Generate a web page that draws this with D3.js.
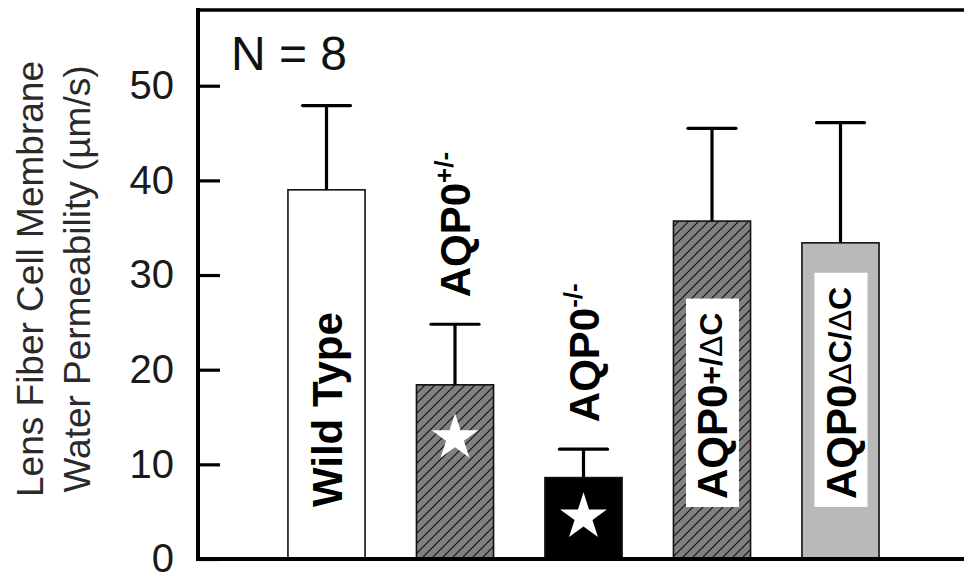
<!DOCTYPE html>
<html>
<head>
<meta charset="utf-8">
<script src="https://cdn.jsdelivr.net/npm/d3@7"></script>
<style>
  html, body { margin: 0; padding: 0; background: #fff; }
  svg { display: block; font-family: "Liberation Sans", Arial, Helvetica, sans-serif; }
</style>
</head>
<body>
<svg id="chart" width="964" height="581"></svg>
<script>
// ---- data ----
const categories = ["Wild Type", "AQP0+/-", "AQP0-/-", "AQP0+/ΔC", "AQP0ΔC/ΔC"];
const labelMain = ["Wild Type", "AQP0", "AQP0", "AQP0", "AQP0"];
const labelSup = ["", "+/-", "-/-", "+/ΔC", "ΔC/ΔC"];
const labelPlacement = ["inside", "above", "above", "box", "box"];
const meanValues = [39.0, 18.4, 8.6, 35.7, 33.4];
const errorValues = [8.9, 6.4, 3.0, 9.8, 12.7];
const starValues = [null, 13.0, 4.65, null, null];
const fillKinds = ["white", "hatch", "black", "hatch", "lightgray"];
const yTicks = [0, 10, 20, 30, 40, 50];
const yDomain = [0, 58];
const nLabel = "N = 8";
const yTitleLines = ["Lens Fiber Cell Membrane", "Water Permeability (µm/s)"];

// ---- layout ----
const svg = d3.select("#chart");
const plot = { left: 198, right: 969, top: 10, bottom: 559 };

const x = d3.scaleBand()
  .domain(categories)
  .range([plot.left, plot.right])
  .paddingInner(0.4)
  .paddingOuter(0.7);

const y = d3.scaleLinear().domain(yDomain).range([plot.bottom, plot.top]);

// hatch pattern
const defs = svg.append("defs");
const pat = defs.append("pattern")
  .attr("id", "hatch")
  .attr("patternUnits", "userSpaceOnUse")
  .attr("width", 10).attr("height", 10);
pat.append("rect").attr("width", 10).attr("height", 10).attr("fill", "#808080");
pat.append("path")
  .attr("d", "M-2,2 l4,-4 M0,10 l10,-10 M8,12 l4,-4")
  .attr("stroke", "#111").attr("stroke-width", 1.2);

const fillFor = k => ({ white: "#ffffff", hatch: "url(#hatch)", black: "#000000", lightgray: "#b9b9b9" }[k]);

const data = categories.map((c, i) => ({
  cat: c, mean: meanValues[i], err: errorValues[i], star: starValues[i],
  fill: fillKinds[i], main: labelMain[i], sup: labelSup[i], place: labelPlacement[i]
}));

// bars
svg.append("g").selectAll("rect").data(data).join("rect")
  .attr("x", d => x(d.cat))
  .attr("width", x.bandwidth())
  .attr("y", d => y(d.mean))
  .attr("height", d => y(0) - y(d.mean))
  .attr("fill", d => fillFor(d.fill))
  .attr("stroke", "#111")
  .attr("stroke-width", 1.6);

// error bars (upper only)
const capW = 48;
const eb = svg.append("g").attr("stroke", "#000").attr("stroke-width", 3.2).attr("fill", "none");
data.forEach(d => {
  const cx = x(d.cat) + x.bandwidth() / 2;
  eb.append("line").attr("x1", cx).attr("x2", cx).attr("y1", y(d.mean)).attr("y2", y(d.mean + d.err));
  eb.append("line").attr("x1", cx - capW / 2).attr("x2", cx + capW / 2)
    .attr("y1", y(d.mean + d.err)).attr("y2", y(d.mean + d.err))
    .attr("stroke-linecap", "round");
});

// stars
svg.append("g").selectAll("path").data(data.filter(d => d.star != null)).join("path")
  .attr("d", d3.symbol(d3.symbolStar).size(680))
  .attr("transform", d => `translate(${x(d.cat) + x.bandwidth() / 2},${y(d.star) + 2})`)
  .attr("fill", "#fff");

// bar labels
const labG = svg.append("g");
data.forEach(d => {
  const cx = x(d.cat) + x.bandwidth() / 2;
  let startY;
  if (d.place === "inside") startY = y(0) - 52;
  else if (d.place === "above") startY = y(d.mean + d.err) - 27;
  else startY = y(0) - 60;
  const g = labG.append("g").attr("transform", `translate(${cx + 15},${startY}) rotate(-90)`);
  const t = g.append("text")
    .attr("x", 0).attr("y", 0)
    .attr("font-size", 42).attr("font-weight", "bold").attr("fill", "#000");
  t.append("tspan").text(d.main);
  if (d.sup) {
    if (d.place === "above") {
      t.append("tspan").attr("dy", -17).attr("font-size", 26).text(d.sup);
    } else {
      const parts = d.sup.split(/(Δ)/).filter(s => s.length);
      parts.forEach((p, j) => {
        const ts = t.append("tspan").attr("font-size", 32).text(p);
        if (j === 0) ts.attr("dy", -5);
        if (p === "Δ") ts.attr("font-weight", "normal");
      });
    }
  }
  if (d.place === "box") {
    const bb = t.node().getBBox();
    g.insert("rect", "text")
      .attr("x", bb.x - 8).attr("y", bb.y - 3)
      .attr("width", bb.width + 22).attr("height", bb.height + 6)
      .attr("fill", "#fff");
  }
});

// frame / axes
const axG = svg.append("g").attr("stroke", "#000").attr("fill", "none");
axG.append("line").attr("x1", plot.left).attr("x2", plot.left).attr("y1", plot.top - 2).attr("y2", plot.bottom + 2).attr("stroke-width", 4);
axG.append("line").attr("x1", plot.left - 2).attr("x2", plot.right).attr("y1", plot.top).attr("y2", plot.top).attr("stroke-width", 3.5);
axG.append("line").attr("x1", plot.left - 2).attr("x2", plot.right).attr("y1", plot.bottom).attr("y2", plot.bottom).attr("stroke-width", 4);

const yAxis = d3.axisLeft(y).tickValues(yTicks).tickSize(-22).tickPadding(24).tickFormat(d3.format("d"));
const ya = svg.append("g").attr("transform", `translate(${plot.left},0)`).call(yAxis);
ya.select(".domain").remove();
ya.selectAll(".tick line").attr("stroke", "#000").attr("stroke-width", 3.2);
ya.selectAll(".tick text").attr("font-size", 40).attr("fill", "#1a1a1a")
  .attr("font-family", "'Liberation Sans', Arial, sans-serif");

// N label
svg.append("text").attr("x", 231).attr("y", 70).attr("font-size", 48).attr("fill", "#111").text(nLabel);

// y title
const titleCenterY = 279;
yTitleLines.forEach((line, i) => {
  svg.append("text")
    .attr("transform", `translate(${43 + i * 47},${titleCenterY}) rotate(-90)`)
    .attr("text-anchor", "middle")
    .attr("font-size", 37).attr("fill", "#2a2a2a")
    .text(line);
});
</script>
</body>
</html>
